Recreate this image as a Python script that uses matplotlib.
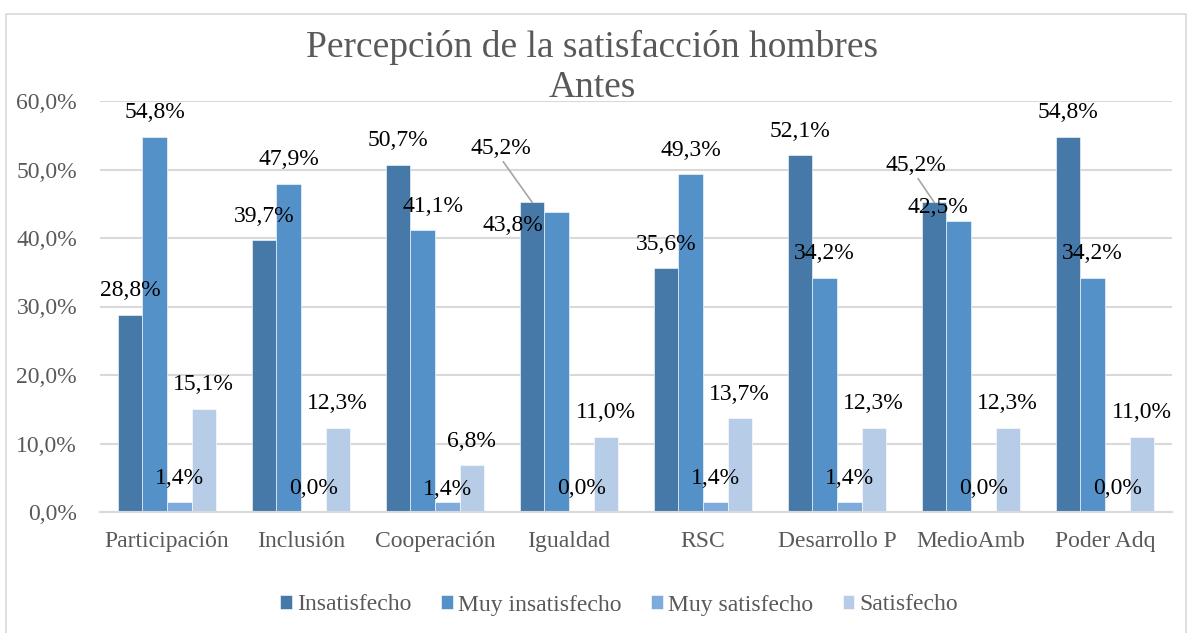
import matplotlib
matplotlib.use('Agg')
import matplotlib.pyplot as plt
import matplotlib.patches as mpatches
import numpy as np

plt.rcParams['font.family'] = ['Liberation Serif', 'DejaVu Serif']

categories = ['Participación', 'Inclusión', 'Cooperación', 'Igualdad',
              'RSC', 'Desarrollo P', 'MedioAmb', 'Poder Adq']
series_names = ['Insatisfecho', 'Muy insatisfecho', 'Muy satisfecho', 'Satisfecho']
insatisfecho = [28.8, 39.7, 50.7, 45.2, 35.6, 52.1, 45.2, 54.8]
muy_insatisfecho = [54.8, 47.9, 41.1, 43.8, 49.3, 34.2, 42.5, 34.2]
muy_satisfecho = [1.4, 0.0, 1.4, 0.0, 1.4, 1.4, 0.0, 0.0]
satisfecho = [15.1, 12.3, 6.8, 11.0, 13.7, 12.3, 12.3, 11.0]

series = [insatisfecho, muy_insatisfecho, muy_satisfecho, satisfecho]
colors = ['#4678a8', '#5591c9', '#7eaadc', '#b7cce7']
grey = '#595959'
grid_c = '#d9d9d9'

# label placement in pixels relative to bar top (Excel moved a few to avoid overlaps)
default_off = (0, 24)
label_off = {
    (2, 1): (10, 24),
    (2, 2): (0, 13),
    (3, 0): (-31, 54),
    (3, 1): (-44, -14),
    (6, 0): (-18, 37),
    (6, 1): (-21, 13),
}
leaders = {(3, 0), (6, 0)}

fs = 17

fig = plt.figure(figsize=(11.9, 6.33), dpi=100)
ax = fig.add_axes([100 / 1190, 121 / 633, 1072 / 1190, 411 / 633])

x = np.arange(len(categories))
w = 0.183
for i, (vals, name, c) in enumerate(zip(series, series_names, colors)):
    pos = x + (i - 1.5) * w
    ax.bar(pos, vals, width=w, color=c, label=name, zorder=2,
           edgecolor='white', linewidth=0.4)
    for j, v in enumerate(vals):
        dx, dy = label_off.get((j, i), default_off)
        txt = f'{v:.1f}%'.replace('.', ',')
        if (j, i) in leaders:
            ax.annotate(txt, xy=(pos[j], v), xytext=(dx, dy),
                        textcoords='offset pixels', ha='center', va='center',
                        fontsize=fs, color='black', zorder=3,
                        arrowprops=dict(arrowstyle='-', color='#a6a6a6', lw=1.2,
                                        relpos=(0.5, 0), shrinkA=0, shrinkB=0))
        else:
            ax.annotate(txt, xy=(pos[j], v), xytext=(dx, dy),
                        textcoords='offset pixels', ha='center', va='center',
                        fontsize=fs, color='black', zorder=3)

ax.set_xlim(-0.5, len(categories) - 0.5)
ax.set_ylim(0, 60)
ax.set_yticks(np.arange(0, 61, 10))
ax.set_yticklabels([f'{t:.1f}%'.replace('.', ',') for t in np.arange(0, 61, 10)])
ax.set_xticks(x)
ax.set_xticklabels(categories)
ax.tick_params(axis='both', length=0, labelsize=fs, labelcolor=grey)
ax.tick_params(axis='y', pad=16.5)
ax.tick_params(axis='x', pad=14)
ax.grid(axis='y', color=grid_c, linewidth=1.5, zorder=0)
for s in ['top', 'right', 'left']:
    ax.spines[s].set_visible(False)
ax.spines['bottom'].set_color(grid_c)
ax.spines['bottom'].set_linewidth(1.5)

fig.text(592 / 1190, 1 - 47 / 633, 'Percepción de la satisfacción hombres',
         ha='center', va='center', fontsize=27, color=grey)
fig.text(592 / 1190, 1 - 88 / 633, 'Antes',
         ha='center', va='center', fontsize=27, color=grey)

fig.legend(loc='center', bbox_to_anchor=(619 / 1190, 1 - 605 / 633), ncol=4,
           frameon=False, fontsize=fs, labelcolor=grey, handlelength=0.5,
           handleheight=0.5, handletextpad=0.2, columnspacing=1.27)

fig.add_artist(mpatches.Rectangle((6 / 1190, -0.05), 1180 / 1190, 1.05 - 14 / 633,
                                  transform=fig.transFigure, fill=False,
                                  edgecolor=grid_c, linewidth=1.2))

fig.savefig('out.png', dpi=100)
